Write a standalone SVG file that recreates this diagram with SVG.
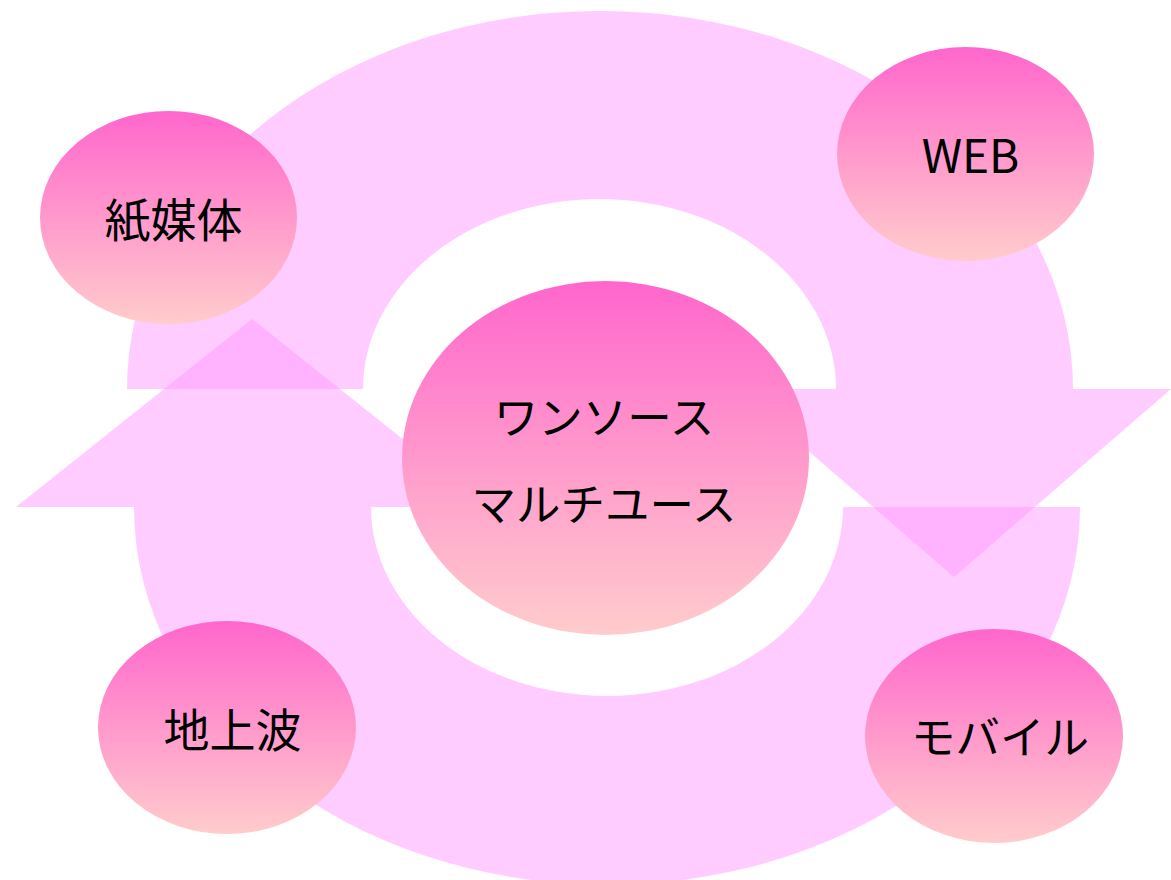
<svg xmlns="http://www.w3.org/2000/svg" width="1171" height="880" viewBox="0 0 1171 880">
  <defs>
    <linearGradient id="nodeGrad" x1="0" y1="0" x2="0" y2="1">
      <stop offset="0" stop-color="#FF66CC"/>
      <stop offset="1" stop-color="#FFCCCC"/>
    </linearGradient>
    <style>
      .arrow { fill: #FF99FF; }
      .arrowGroup { opacity: 0.5; }
      .node { fill: url(#nodeGrad); }
      .label { font-family: "Noto Sans CJK JP", "Noto Sans", sans-serif; fill: #000000; text-anchor: middle; }
    </style>
  </defs>
  <rect width="1171" height="880" fill="#FFFFFF"/>
  <g id="connectors">
    <g class="arrowGroup">
      <path id="arrow-upper" class="arrow" d="M127,389 A473,378 0 0 1 1073,389 L1171,389 L954,577 L737,389 L836,389 A236.5,190 0 0 0 363,389 Z"/>
    </g>
    <g class="arrowGroup">
      <path id="arrow-lower" class="arrow" d="M1080,507 A473,378 0 0 1 134,507 L16,507 L252,319 L488,507 L371,507 A236,189 0 0 0 843,507 Z"/>
    </g>
  </g>
  <g id="node-center">
    <ellipse class="node" cx="605.5" cy="458" rx="203.5" ry="177"/>
    <text class="label" x="604" y="434" font-size="44.5">ワンソース</text>
    <text class="label" x="604" y="521" font-size="44.5">マルチユース</text>
  </g>
  <g id="node-paper">
    <ellipse class="node" cx="168.5" cy="217.5" rx="128.5" ry="106.5"/>
    <text class="label" x="173.5" y="237" font-size="46">紙媒体</text>
  </g>
  <g id="node-web">
    <ellipse class="node" cx="965.5" cy="154" rx="128.5" ry="107"/>
    <text class="label" x="970.5" y="173" font-size="46">WEB</text>
  </g>
  <g id="node-terrestrial">
    <ellipse class="node" cx="227" cy="727.5" rx="129" ry="106.5"/>
    <text class="label" x="232.5" y="747" font-size="46">地上波</text>
  </g>
  <g id="node-mobile">
    <ellipse class="node" cx="994" cy="736" rx="129" ry="107"/>
    <text class="label" x="1000" y="754" font-size="44.5">モバイル</text>
  </g>
</svg>
